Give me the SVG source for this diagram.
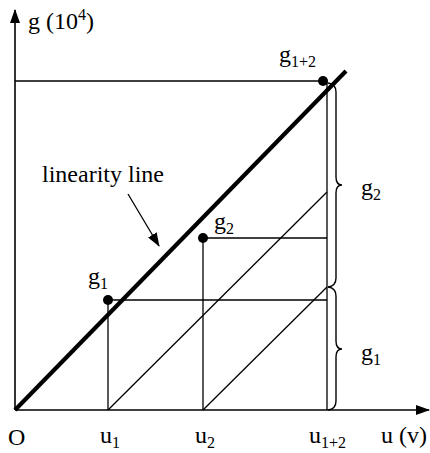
<svg xmlns="http://www.w3.org/2000/svg" width="430" height="453" viewBox="0 0 430 453">
<style>
.ln{stroke:#000;stroke-width:1.3;fill:none}
.ax{stroke:#000;stroke-width:1.6;fill:none}
.thick{stroke:#000;stroke-width:4.2;fill:none}
.br{stroke:#000;stroke-width:1.4;fill:none}
.t{font-family:"Liberation Serif","Times New Roman",serif;font-size:24px;fill:#000}
.s{font-size:16px}
.dot{fill:#000}
</style>
<defs>
<marker id="ah" viewBox="0 0 14 10" refX="13" refY="5" markerWidth="14" markerHeight="10" markerUnits="userSpaceOnUse" orient="auto">
<path d="M0,0 L14,5 L0,10 Z" fill="#000"/>
</marker>
</defs>
<g id="axes">
<line class="ax" x1="15" y1="410" x2="15" y2="10" marker-end="url(#ah)"/>
<line class="ax" x1="15" y1="410" x2="429" y2="410" marker-end="url(#ah)"/>
</g>
<g id="connectors">
<line class="ln" x1="15" y1="81" x2="323" y2="81"/>
<line class="ln" x1="327" y1="81" x2="327" y2="410"/>
<line class="ln" x1="108" y1="300" x2="108" y2="410"/>
<line class="ln" x1="108" y1="300" x2="327" y2="300"/>
<line class="ln" x1="203" y1="238" x2="203" y2="410"/>
<line class="ln" x1="203" y1="238" x2="327" y2="238"/>
<line class="ln" x1="108" y1="410" x2="327" y2="192"/>
<line class="ln" x1="203" y1="410" x2="327" y2="287"/>
<line class="thick" x1="15" y1="410" x2="346" y2="71"/>
<line class="ln" x1="128" y1="194" x2="159" y2="246" marker-end="url(#ah)"/>
<path class="br" d="M328,410 Q336,409 336,401 L336,357 Q336,349 342,349 Q336,349 336,341 L336,296 Q336,288 328,287"/>
<path class="br" d="M328,287 Q336,286 336,278 L336,193 Q336,185 342,185 Q336,185 336,177 L336,92 Q336,84 328,83"/>
</g>
<g id="p1"><circle class="dot" cx="108" cy="300" r="5"/></g>
<g id="p2"><circle class="dot" cx="203" cy="238" r="5"/></g>
<g id="p12"><circle class="dot" cx="323" cy="81" r="5"/></g>
<g id="labels">
<text class="t" x="28" y="29">g (10<tspan class="s" dy="-9">4</tspan><tspan dy="9">)</tspan></text>
<text class="t" x="279" y="62">g<tspan class="s" dy="5">1+2</tspan></text>
<text class="t" x="42" y="182">linearity line</text>
<text class="t" x="88" y="284">g<tspan class="s" dy="5">1</tspan></text>
<text class="t" x="214" y="229">g<tspan class="s" dy="5">2</tspan></text>
<text class="t" x="361" y="195">g<tspan class="s" dy="5">2</tspan></text>
<text class="t" x="361" y="360">g<tspan class="s" dy="5">1</tspan></text>
<text class="t" x="8" y="445">O</text>
<text class="t" x="100" y="443">u<tspan class="s" dy="5">1</tspan></text>
<text class="t" x="195" y="443">u<tspan class="s" dy="5">2</tspan></text>
<text class="t" x="309" y="443">u<tspan class="s" dy="5">1+2</tspan></text>
<text class="t" x="381" y="443">u (v)</text>
</g>
</svg>
